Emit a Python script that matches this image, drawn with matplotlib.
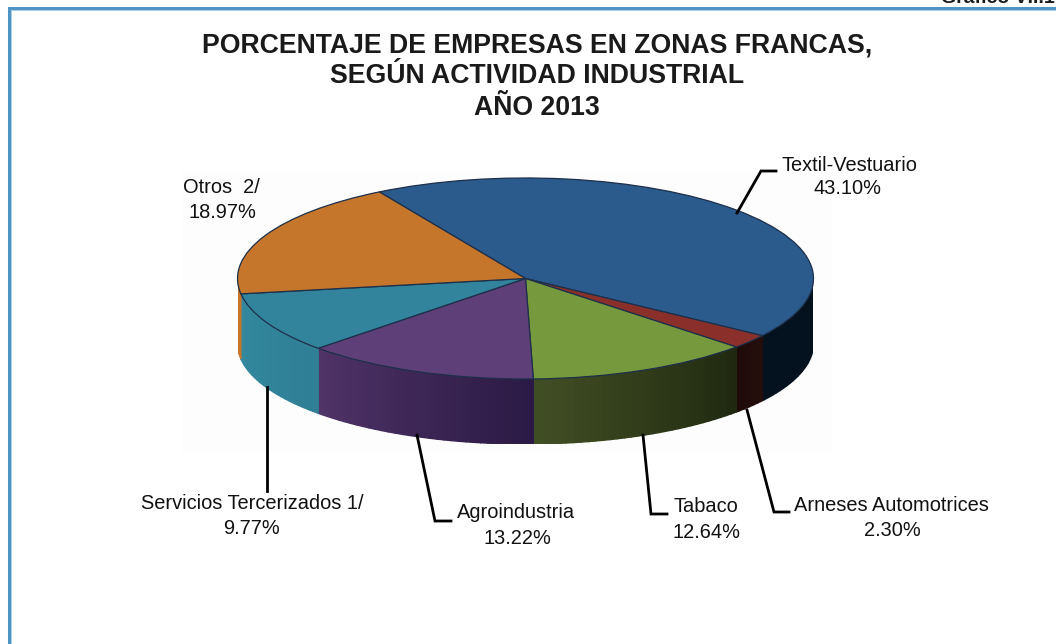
import numpy as np
import matplotlib
matplotlib.use('Agg')
import matplotlib.pyplot as plt
from matplotlib.colors import to_rgb

plt.rcParams['font.family'] = ['Liberation Sans', 'DejaVu Sans']

# datos (%), en sentido horario desde Textil
actividades = ['Textil-Vestuario', 'Arneses Automotrices', 'Tabaco', 'Agroindustria',
               'Servicios Tercerizados 1/', 'Otros  2/']
porcentajes = [43.10, 2.30, 12.64, 13.22, 9.77, 18.97]
etiquetas = ['43.10%', '2.30%', '12.64%', '13.22%', '9.77%', '18.97%']

colores = ['#2B5A8C', '#8B2F2A', '#77993D', '#5F3F78', '#31849B', '#C5762B']
# color del costado: (inicio, fin) en sentido horario
costados = [('#03101A', '#03121E'), ('#240E0B', '#1E0B09'), ('#20290F', '#414F25'),
            ('#2B1A45', '#503468'), ('#2F7F95', '#33899F'), ('#C5762B', '#C5762B')]

W, H = 1056, 644
CX, CY, RX, RY, DEPTH = 525.5, 278.5, 288, 100.5, 65
INICIO = 120.5

fig = plt.figure(figsize=(W / 100, H / 100), dpi=100, facecolor='white')

# capa en pixeles para marco, textos y guias
bg = fig.add_axes([0, 0, 1, 1])
bg.set_xlim(0, W)
bg.set_ylim(H, 0)
bg.axis('off')
bg.plot([8.5, 8.5, W + 5], [H + 5, 7.5, 7.5], color='#4F94C4', lw=2.2, solid_joinstyle='miter')
bg.plot([10.5, 10.5, W + 5], [H + 5, 9.5, 9.5], color='#A9CFE8', lw=0.7)
bg.fill_between([182, 832], 172, 452, color='#FDFDFD', lw=0)

# tarta: la circunferencia unidad se aplasta a elipse por la posicion de los ejes
ax = fig.add_axes([(CX - RX) / W, 1 - (CY + RY + DEPTH) / H, 2 * RX / W, (2 * RY + DEPTH) / H])
ax.pie(porcentajes, colors=colores, startangle=INICIO, counterclock=False, radius=1,
       wedgeprops={'edgecolor': '#1D2F4A', 'linewidth': 0.9, 'zorder': 3})
ax.set_aspect('auto')
ax.set_xlim(-1, 1)
ax.set_ylim(-1 - DEPTH / RY, 1)
ax.axis('off')

d = DEPTH / RY
fin = INICIO
for p, (c0, c1) in zip(porcentajes, costados):
    ini = fin
    fin = ini - p * 3.6
    # parte visible del costado: mitad inferior de la elipse
    a = np.deg2rad(np.arange(ini, fin - 1e-6, -1.5))
    a = np.append(a, np.deg2rad(fin))
    a = np.where(np.sin(a) <= 0.0, a, np.nan)
    c0, c1 = np.array(to_rgb(c0)), np.array(to_rgb(c1))
    for i in range(len(a) - 1):
        if np.isnan(a[i]) or np.isnan(a[i + 1]):
            continue
        t = i / max(len(a) - 2, 1)
        xs = np.cos([a[i], a[i + 1]])
        ys = np.sin([a[i], a[i + 1]])
        col = c0 + (c1 - c0) * t
        ax.fill(np.r_[xs, xs[::-1]], np.r_[ys, ys[::-1] - d], facecolor=col, edgecolor=col,
                lw=1.0, zorder=1)

# guias
guias = [[(737, 213), (761, 171), (776, 171)],
         [(747, 410), (774, 512), (789, 512)],
         [(643, 435), (651, 514), (667, 514)],
         [(417, 435), (435, 521), (451, 521)],
         [(267, 387), (267, 491)]]
ov = fig.add_axes([0, 0, 1, 1])
ov.set_xlim(0, W)
ov.set_ylim(H, 0)
ov.axis('off')
for g in guias:
    g = np.array(g)
    ov.plot(g[:, 0], g[:, 1], color='black', lw=2, solid_joinstyle='miter')

# textos
tx = [(849.5, 165, 848, 188), (891, 505, 892, 530), (705.5, 507, 706, 532),
      (516, 513, 517, 538), (252, 503, 252, 528), (221, 187, 222, 212)]
for nombre, et, (x1, y1, x2, y2) in zip(actividades, etiquetas, tx):
    ov.text(x1, y1, nombre, fontsize=14.4, ha='center', va='center', color='#111111')
    ov.text(x2, y2, et, fontsize=14.4, ha='center', va='center', color='#111111')

titulo = ['PORCENTAJE DE EMPRESAS EN ZONAS FRANCAS,', 'SEGÚN ACTIVIDAD INDUSTRIAL', 'AÑO 2013']
for s, y in zip(titulo, [52, 83, 115]):
    ov.text(537, y, s, fontsize=19.2, fontweight='bold', ha='center', va='baseline', color='#1A1A1A')
ov.text(941, 3, 'Gráfico VII.1', fontsize=14, fontweight='bold', ha='left', va='baseline', color='#1A1A1A')

fig.savefig('out.png', dpi=100)
